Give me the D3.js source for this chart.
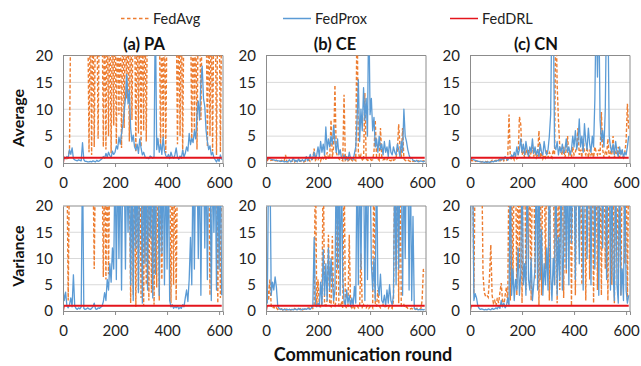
<!DOCTYPE html>
<html>
<head>
<meta charset="utf-8">
<script src="https://cdn.jsdelivr.net/npm/d3@7"></script>
<style>
  body { margin: 0; background: #fff; }
  svg { font-family: Lato, "Open Sans", sans-serif; }
</style>
</head>
<body>
<svg id="chart" width="641" height="366"></svg>
<script>
// sampled every 5 communication rounds, 0..610 (values above 20 run off the plot)
const rounds = d3.range(0, 611, 5);
const seriesNames = ["FedAvg", "FedProx", "FedDRL"];
const colTitles = ["(a) PA", "(b) CE", "(c) CN"];
const rowTitles = ["Average", "Variance"];
const yTicks = [0, 5, 10, 15, 20];
const xTicks = [0, 200, 400, 600];

const paAvgFedAvg = [
  1.2, 0.9, 1.1, 0.8, 1.0, 2.5, 30, 30, 30, 30,
  30, 30, 30, 30, 30, 30, 30, 30, 30, 30,
  2.0, 30, 1.5, 30, 3.0, 30, 30, 4.5, 30, 30,
  30, 3.0, 30, 2.5, 30, 5.0, 30, 1.8, 30, 7.0,
  30, 3.5, 30, 9.0, 30, 2.8, 30, 6.5, 30, 12.0,
  30, 4.0, 30, 8.0, 30, 30, 2.2, 30, 5.5, 30,
  3.0, 30, 6.0, 30, 4.0, 30, 30, 30, 30, 30,
  30, 30, 30, 30, 30, 2.5, 30, 4.0, 30, 1.8,
  30, 30, 30, 30, 30, 30, 30, 30, 3.5, 30,
  5.0, 30, 2.0, 30, 30, 30, 30, 30, 30, 4.0,
  30, 6.0, 30, 2.5, 30, 30, 8.0, 30, 30, 30,
  30, 3.0, 30, 5.0, 30, 2.2, 30, 30, 1.5, 30,
  30, 2.0, 30
];
const paAvgFedProx = [
  1.4, 1.0, 0.8, 1.2, 0.9, 2.5, 1.6, 2.8, 0.8, 0.6,
  0.5, 0.4, 0.6, 0.5, 0.4, 3.8, 0.6, 0.3, 0.3, 0.2,
  0.2, 0.3, 0.2, 0.4, 0.3, 0.2, 0.5, 0.3, 0.4, 0.6,
  0.8, 1.2, 0.9, 1.8, 1.1, 2.0, 1.4, 1.0, 2.2, 1.6,
  2.0, 3.2, 2.6, 4.8, 3.5, 5.5, 7.0, 9.5, 12.0, 16.5,
  11.0, 13.5, 6.5, 4.0, 5.2, 3.0, 2.4, 3.5, 1.8, 4.5,
  2.8, 1.5, 2.0, 1.2, 0.9, 1.0, 0.8, 1.3, 1.1, 0.9,
  1.2, 30, 2.5, 4.6, 2.0, 3.5, 1.6, 4.8, 2.2, 1.4,
  1.0, 1.6, 0.8, 2.0, 1.2, 0.9, 1.5, 2.8, 1.1, 0.7,
  1.3, 0.9, 2.4, 1.1, 1.8, 3.0, 2.2, 5.5, 3.4, 4.6,
  3.8, 6.0, 4.5, 9.0, 11.5, 8.0, 15.0, 18.0, 12.0, 10.5,
  6.0, 4.0, 2.5, 3.2, 1.5, 2.0, 1.0, 0.6, 0.2, 0.8,
  0.3, 1.5, 0.6
];
const ceAvgFedAvg = [
  0.6, 0.5, 0.7, 0.4, 0.5, 0.6, 0.3, 0.4, 0.5, 0.3,
  0.4, 0.3, 0.5, 0.3, 0.4, 1.5, 0.3, 0.2, 0.4, 0.3,
  0.3, 0.5, 0.2, 0.4, 0.3, 0.2, 0.5, 0.3, 0.4, 0.2,
  0.3, 0.5, 0.4, 0.6, 0.3, 0.5, 0.8, 2.7, 0.5, 0.8,
  0.6, 1.0, 0.4, 1.2, 0.8, 1.5, 0.6, 2.0, 1.0, 0.8,
  8.0, 1.0, 3.0, 14.5, 2.0, 1.2, 0.8, 0.5, 0.6, 0.4,
  12.7, 0.5, 0.8, 0.4, 0.6, 1.0, 0.5, 0.3, 0.6, 0.4,
  30, 2.0, 0.8, 1.5, 0.6, 0.4, 13.0, 0.8, 0.5, 0.6,
  0.8, 0.5, 0.6, 2.0, 8.0, 1.0, 0.8, 0.5, 6.5, 1.2,
  0.6, 0.8, 0.4, 0.6, 1.0, 0.5, 0.4, 0.8, 0.5, 0.6,
  1.0, 2.5, 7.2, 3.0, 1.0, 6.5, 0.8, 0.5, 0.4, 0.6,
  0.4, 0.3, 0.5, 0.3, 0.4, 0.2, 0.3, 0.4, 0.3, 0.2,
  0.3, 0.4, 0.3
];
const ceAvgFedProx = [
  1.0, 0.9, 0.8, 0.8, 0.7, 0.6, 0.6, 0.5, 0.5, 0.4,
  0.4, 0.3, 0.3, 0.4, 0.2, 0.3, 0.2, 0.3, 0.6, 0.2,
  0.4, 1.0, 0.3, 0.5, 0.2, 0.8, 0.3, 0.4, 0.6, 0.3,
  0.5, 1.2, 0.4, 0.8, 1.6, 0.6, 1.0, 2.0, 0.8, 1.5,
  3.0, 1.2, 4.0, 2.0, 3.5, 1.5, 6.7, 2.5, 4.5, 3.0,
  5.0, 3.5, 7.0, 4.0, 2.0, 4.5, 1.5, 2.5, 1.0, 0.8,
  1.5, 0.6, 1.2, 0.5, 2.0, 0.8, 1.0, 0.6, 1.8, 3.0,
  8.0, 15.5, 4.0, 10.0, 6.0, 14.0, 8.0, 12.0, 5.0, 30,
  9.0, 12.0, 6.0, 8.5, 3.0, 4.5, 2.0, 5.0, 2.5, 3.5,
  1.5, 4.0, 2.0, 3.0, 1.2, 4.2, 2.0, 1.5, 3.0, 2.0,
  1.5, 3.5, 2.5, 1.2, 4.0, 2.0, 10.0, 5.0, 4.0, 2.5,
  1.5, 0.8, 1.0, 0.5, 0.4, 0.3, 0.5, 0.2, 0.3, 0.4,
  0.3, 0.2, 0.4
];
const cnAvgFedAvg = [
  0.6, 0.5, 0.4, 0.5, 0.3, 0.4, 0.3, 0.2, 0.3, 0.2,
  0.3, 0.2, 0.3, 0.2, 0.4, 0.3, 0.2, 0.5, 0.3, 0.4,
  0.5, 0.3, 0.6, 0.4, 0.5, 0.8, 0.4, 0.6, 0.5, 1.0,
  9.0, 1.0, 0.8, 1.2, 0.6, 1.5, 0.8, 1.0, 8.6, 7.2,
  1.5, 2.0, 1.0, 3.0, 1.5, 2.5, 1.0, 2.0, 3.0, 1.2,
  2.5, 1.0, 1.5, 6.0, 1.0, 2.0, 0.8, 1.5, 1.0, 2.5,
  1.0, 2.0, 1.5, 1.0, 2.5, 1.5, 30, 14.5, 8.0, 3.0,
  2.0, 1.5, 3.0, 1.0, 2.5, 5.0, 1.5, 2.0, 1.0, 3.0,
  1.5, 2.0, 3.0, 6.5, 1.5, 2.5, 1.0, 4.5, 2.0, 1.5,
  3.0, 1.0, 2.5, 1.5, 2.0, 1.0, 3.0, 2.0, 1.5, 2.5,
  1.5, 9.5, 2.5, 1.0, 2.0, 1.5, 4.5, 1.0, 2.0, 1.5,
  5.0, 1.0, 2.0, 1.5, 3.0, 1.0, 2.5, 1.5, 1.0, 2.0,
  4.0, 11.0, 6.0
];
const cnAvgFedProx = [
  1.0, 0.8, 0.7, 0.6, 0.5, 0.4, 0.3, 0.3, 0.2, 0.2,
  0.2, 0.1, 0.2, 0.1, 0.2, 0.1, 0.2, 0.3, 0.2, 0.4,
  0.3, 0.5, 0.4, 0.8, 0.5, 1.0, 0.6, 1.2, 0.8, 0.5,
  1.0, 0.8, 1.5, 1.0, 2.0, 1.2, 3.0, 1.5, 2.5, 4.5,
  2.0, 3.5, 1.5, 4.0, 2.5, 1.2, 3.0, 2.0, 4.5, 1.8,
  3.0, 1.5, 2.5, 1.2, 3.5, 2.0, 1.5, 4.0, 2.2, 1.5,
  2.5, 5.0, 9.0, 30, 30, 3.0, 2.5, 4.0, 1.5, 3.0,
  2.0, 3.5, 1.8, 2.5, 4.5, 2.0, 3.0, 1.5, 2.5, 5.0,
  3.0, 6.0, 2.5, 4.0, 8.2, 3.0, 5.0, 2.0, 7.3, 4.0,
  2.5, 6.5, 3.5, 2.0, 5.0, 3.0, 12.0, 30, 16.0, 30,
  8.0, 4.0, 6.0, 3.0, 10.0, 30, 30, 5.0, 3.0, 2.0,
  3.5, 1.5, 4.0, 2.0, 1.2, 3.0, 1.5, 2.5, 1.0, 2.0,
  1.5, 3.0, 5.0
];

const paVarFedAvg = [
  30, 30, 30, 30, 2.0, 30, 30, 30, 30, 30,
  30, 30, 30, 30, 30, 30, 30, 30, 30, 30,
  30, 30, 30, 30, 8.0, 30, 30, 30, 30, 30,
  30, 6.5, 30, 6.0, 30, 7.0, 30, 30, 30, 30,
  30, 30, 30, 30, 30, 30, 30, 30, 30, 30,
  30, 30, 1.5, 30, 3.0, 30, 0.8, 30, 4.0, 30,
  2.5, 30, 1.0, 30, 5.0, 30, 2.0, 30, 3.5, 30,
  1.2, 30, 4.5, 30, 2.0, 30, 6.0, 30, 30, 30,
  30, 30, 30, 1.5, 30, 5.0, 30, 2.0, 30, 30,
  30, 30, 30, 30, 30, 30, 30, 30, 30, 30,
  30, 30, 30, 30, 30, 30, 30, 30, 30, 30,
  30, 30, 30, 3.0, 30, 30, 30, 30, 30, 1.5,
  30, 2.5, 30
];
const paVarFedProx = [
  4.2, 2.0, 3.6, 1.0, 0.6, 1.2, 2.5, 0.8, 6.9, 1.0,
  0.5, 0.3, 0.6, 0.4, 0.8, 30, 0.5, 0.3, 0.4, 0.6,
  0.4, 0.3, 0.5, 0.8, 1.5, 0.4, 0.3, 0.6, 0.5, 0.7,
  0.9, 1.8, 3.5, 2.0, 6.0, 4.0, 9.0, 5.5, 12.0, 8.0,
  30, 6.0, 30, 10.0, 30, 4.0, 30, 30, 8.0, 30,
  15.0, 30, 5.0, 30, 2.0, 30, 12.0, 30, 3.5, 30,
  30, 1.5, 30, 9.0, 30, 4.0, 30, 14.0, 30, 2.5,
  30, 7.0, 30, 30, 3.0, 30, 11.0, 30, 5.0, 30,
  8.0, 30, 2.0, 0.8, 1.2, 0.5, 0.9, 0.6, 1.0, 0.4,
  0.7, 0.5, 1.2, 0.8, 2.5, 4.0, 1.8, 6.0, 14.0, 5.0,
  30, 8.0, 30, 30, 10.0, 30, 3.0, 30, 30, 12.0,
  30, 6.0, 30, 30, 2.0, 30, 15.0, 30, 4.0, 30,
  8.0, 30, 3.0
];
const ceVarFedAvg = [
  4.0, 5.5, 2.0, 6.0, 1.0, 0.5, 0.8, 0.4, 0.6, 0.3,
  0.5, 0.3, 0.4, 0.2, 0.5, 0.3, 0.2, 0.4, 0.3, 0.2,
  0.3, 0.2, 0.5, 0.3, 0.2, 0.4, 0.3, 0.5, 0.2, 0.3,
  0.4, 0.3, 0.5, 0.6, 0.4, 0.8, 0.5, 1.0, 30, 0.8,
  6.0, 1.0, 0.8, 1.5, 30, 1.2, 1.0, 2.0, 14.5, 1.0,
  0.8, 14.3, 1.5, 1.0, 2.0, 30, 1.0, 0.8, 1.5, 0.6,
  30, 1.0, 0.5, 0.8, 14.5, 1.2, 0.6, 1.0, 0.5, 0.8,
  1.0, 0.6, 0.8, 11.0, 0.5, 1.2, 0.8, 0.6, 1.0, 0.5,
  0.8, 1.0, 0.6, 30, 1.5, 0.8, 4.0, 1.0, 0.6, 0.8,
  1.2, 0.6, 1.0, 0.8, 0.5, 1.0, 0.7, 0.5, 2.0, 30,
  8.0, 30, 1.5, 30, 1.0, 0.8, 1.2, 0.6, 0.8, 0.5,
  0.6, 0.4, 0.5, 0.3, 0.4, 0.3, 0.5, 0.4, 0.3, 0.4,
  2.0, 8.0, 7.5
];
const ceVarFedProx = [
  5.0, 1.5, 30, 30, 3.0, 5.5, 4.0, 6.5, 4.5, 1.0,
  0.5, 0.3, 0.4, 0.2, 0.3, 0.2, 0.4, 0.2, 0.3, 0.2,
  0.3, 0.2, 0.4, 0.3, 0.2, 0.5, 0.3, 0.2, 0.4, 0.3,
  0.4, 0.3, 0.5, 0.4, 0.3, 0.6, 0.8, 14.0, 1.0, 0.8,
  1.5, 0.8, 5.5, 1.2, 11.7, 3.0, 9.0, 2.0, 12.0, 4.0,
  10.0, 6.0, 2.0, 4.0, 30, 8.0, 30, 3.0, 30, 6.0,
  2.0, 1.0, 4.0, 1.5, 3.0, 0.8, 2.5, 1.0, 4.7, 1.5,
  30, 5.0, 30, 8.0, 30, 30, 2.0, 30, 6.0, 30,
  30, 9.0, 4.0, 10.0, 2.0, 30, 5.0, 3.0, 7.0, 2.0,
  1.5, 3.0, 1.0, 4.0, 1.5, 5.0, 2.0, 1.2, 3.0, 30,
  5.0, 30, 8.0, 30, 30, 3.0, 30, 10.0, 30, 30,
  4.0, 30, 2.0, 18.0, 0.5, 0.3, 0.4, 0.2, 0.3, 0.2,
  0.3, 0.2, 0.3
];
const cnVarFedAvg = [
  30, 30, 30, 3.3, 30, 30, 30, 30, 30, 30,
  7.0, 3.5, 2.8, 3.0, 2.6, 6.5, 12.6, 3.0, 1.5, 2.0,
  1.0, 2.5, 1.5, 3.5, 5.3, 2.0, 1.0, 3.0, 4.5, 1.5,
  30, 2.0, 30, 5.0, 30, 30, 3.0, 30, 8.0, 30,
  1.5, 30, 30, 4.0, 30, 10.0, 30, 2.0, 30, 30,
  6.0, 30, 30, 1.0, 30, 3.0, 30, 30, 8.0, 30,
  30, 2.0, 30, 30, 30, 5.0, 30, 1.5, 30, 4.0,
  30, 30, 2.5, 30, 7.0, 30, 30, 30, 1.0, 30,
  30, 3.0, 30, 30, 12.0, 30, 5.0, 30, 30, 2.0,
  30, 30, 6.0, 30, 30, 1.5, 30, 30, 4.0, 30,
  30, 3.0, 30, 30, 8.0, 30, 2.0, 30, 30, 5.0,
  30, 1.5, 30, 30, 6.0, 30, 3.0, 30, 30, 9.0,
  30, 2.0, 30
];
const cnVarFedProx = [
  3.0, 30, 30, 2.0, 3.3, 2.5, 1.0, 0.5, 0.3, 0.4,
  0.3, 0.2, 0.3, 0.2, 0.4, 0.3, 0.2, 0.5, 0.3, 0.4,
  0.6, 0.4, 1.0, 0.5, 2.0, 0.8, 1.5, 0.6, 1.0, 2.5,
  1.0, 30, 3.0, 8.0, 2.0, 6.0, 4.0, 12.0, 3.0, 7.0,
  30, 5.0, 9.0, 3.0, 30, 6.0, 4.0, 10.0, 2.0, 5.0,
  8.0, 30, 4.0, 30, 6.0, 15.5, 3.0, 9.0, 5.0, 12.0,
  4.0, 30, 7.0, 2.0, 10.0, 5.0, 30, 3.0, 14.0, 6.0,
  30, 4.0, 11.0, 30, 8.0, 30, 5.0, 30, 13.0, 30,
  30, 6.0, 30, 30, 9.0, 30, 30, 4.0, 30, 30,
  10.0, 30, 30, 5.0, 30, 30, 8.0, 30, 30, 3.0,
  30, 30, 12.0, 30, 30, 6.0, 30, 30, 4.0, 30,
  7.0, 2.0, 30, 5.0, 1.5, 30, 3.0, 8.0, 2.0, 30,
  4.0, 1.5, 3.0
];

// FedDRL stays flat just under 1 after the first round
const drlRounds = [0, 3, 610];
const drlValues = [0, 1.0, 1.0];

const colors = { FedAvg: "#ED7D31", FedProx: "#5B9BD5", FedDRL: "#E4151C" };

const grid = [
  [paAvgFedAvg, paAvgFedProx, ceAvgFedAvg, ceAvgFedProx, cnAvgFedAvg, cnAvgFedProx],
  [paVarFedAvg, paVarFedProx, ceVarFedAvg, ceVarFedProx, cnVarFedAvg, cnVarFedProx]
];

const colX = [[63, 223], [266, 426], [470, 630]];
const rowY = [[55.5, 163], [206, 311]];
const titleX = [144, 335, 536];

const svg = d3.select("#chart");

// legend
const legend = svg.append("g");
const legX = [121, 283, 450];
seriesNames.forEach((name, i) => {
  legend.append("line")
    .attr("x1", legX[i]).attr("x2", legX[i] + 28)
    .attr("y1", 18.5).attr("y2", 18.5)
    .attr("stroke", colors[name])
    .attr("stroke-width", 1.5)
    .attr("stroke-dasharray", name === "FedAvg" ? "3.5,2.5" : null);
  legend.append("text")
    .attr("x", legX[i] + 32).attr("y", 23.5)
    .attr("font-size", 14.5).attr("fill", "#222")
    .text(name);
});

rowY.forEach((ry, r) => {
  colX.forEach((cx, c) => {
    const x = d3.scaleLinear().domain([0, 615]).range(cx);
    const y = d3.scaleLinear().domain([0, 20]).range([ry[1], ry[0]]);
    const g = svg.append("g");
    const clipId = `clip-${r}-${c}`;

    g.append("clipPath").attr("id", clipId)
      .append("rect")
      .attr("x", cx[0]).attr("y", ry[0])
      .attr("width", cx[1] - cx[0]).attr("height", ry[1] - ry[0]);

    // gridlines
    g.selectAll(".grid").data(yTicks.slice(1, -1)).enter()
      .append("line")
      .attr("x1", cx[0]).attr("x2", cx[1])
      .attr("y1", d => y(d)).attr("y2", d => y(d))
      .attr("stroke", "#d9d9d9").attr("stroke-width", 1);

    // plot border (top/right)
    g.append("path")
      .attr("d", `M${cx[0]},${ry[0]}H${cx[1]}V${ry[1]}`)
      .attr("fill", "none").attr("stroke", "#8c8c8c").attr("stroke-width", 1);

    const line = d3.line().x(d => x(d[0])).y(d => y(d[1]));
    const lines = g.append("g").attr("clip-path", `url(#${clipId})`);

    const fedAvg = grid[r][c * 2];
    const fedProx = grid[r][c * 2 + 1];

    lines.append("path")
      .attr("d", line(rounds.map((t, i) => [t, fedAvg[i]])))
      .attr("fill", "none").attr("stroke", colors.FedAvg)
      .attr("stroke-width", 1.4).attr("stroke-dasharray", "3.5,2");
    lines.append("path")
      .attr("d", line(rounds.map((t, i) => [t, fedProx[i]])))
      .attr("fill", "none").attr("stroke", colors.FedProx)
      .attr("stroke-width", 1.3).attr("stroke-linejoin", "round");
    lines.append("path")
      .attr("d", line(drlRounds.map((t, i) => [t, drlValues[i]])))
      .attr("fill", "none").attr("stroke", colors.FedDRL)
      .attr("stroke-width", 2);

    // axes
    const xAxis = g.append("g")
      .attr("transform", `translate(0,${ry[1]})`)
      .call(d3.axisBottom(x).tickValues(xTicks).tickSize(4).tickPadding(10));
    xAxis.select(".domain").attr("stroke", "#8c8c8c");
    xAxis.selectAll(".tick line").attr("stroke", "#8c8c8c");
    xAxis.selectAll("text").attr("font-size", 15).attr("fill", "#222")
      .attr("font-family", "Lato, 'Open Sans', sans-serif");

    const yAxis = g.append("g")
      .attr("transform", `translate(${cx[0]},0)`)
      .call(d3.axisLeft(y).tickValues(yTicks).tickSize(0).tickPadding(10));
    yAxis.select(".domain").attr("stroke", "#8c8c8c");
    yAxis.selectAll("text").attr("font-size", 15).attr("fill", "#222")
      .attr("font-family", "Lato, 'Open Sans', sans-serif");

    if (r === 0) {
      svg.append("text")
        .attr("x", titleX[c]).attr("y", 50)
        .attr("text-anchor", "middle")
        .attr("font-size", 16.5).attr("font-weight", "bold").attr("fill", "#111")
        .text(colTitles[c]);
    }
  });
});

// row titles
[118, 256].forEach((cy, r) => {
  svg.append("text")
    .attr("transform", `translate(24,${cy}) rotate(-90)`)
    .attr("text-anchor", "middle")
    .attr("font-size", 16).attr("font-weight", "bold").attr("fill", "#111")
    .text(rowTitles[r]);
});

svg.append("text")
  .attr("x", 363).attr("y", 361)
  .attr("text-anchor", "middle")
  .attr("font-size", 18).attr("font-weight", "bold").attr("fill", "#111")
  .text("Communication round");
</script>
</body>
</html>
